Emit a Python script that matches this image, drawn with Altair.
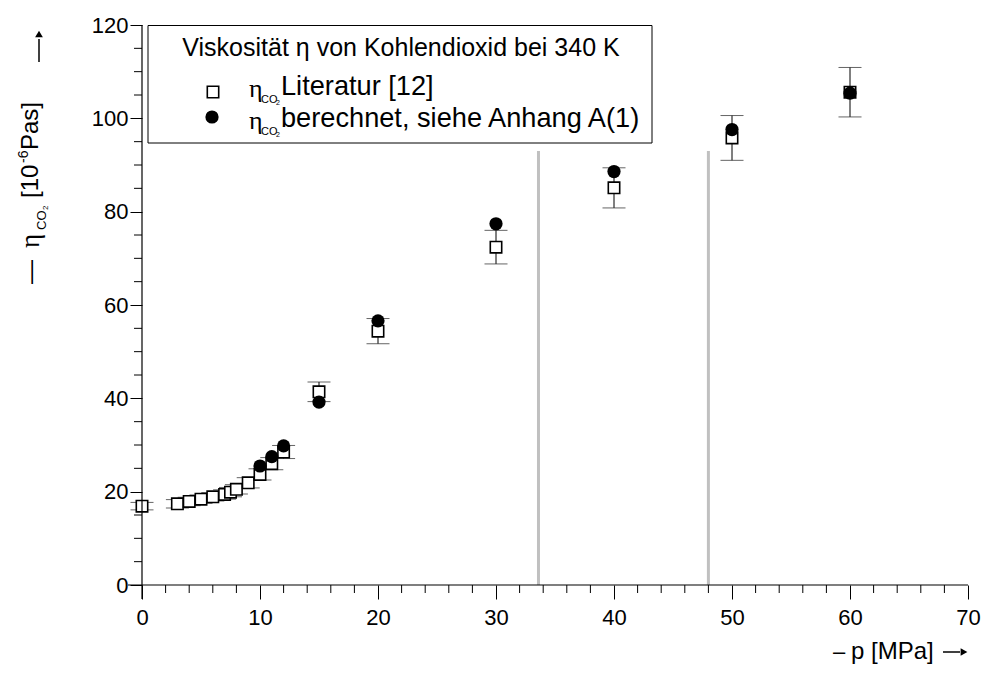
import altair as alt
import pandas as pd

# ---------------- data ----------------
p_lit = [0, 3, 4, 5, 6, 7, 7.5, 8, 9, 10, 11, 12, 15, 20, 30, 40, 50, 60]
eta_lit = [16.9, 17.4, 17.9, 18.4, 18.9, 19.4, 19.9, 20.5, 21.9, 23.7, 26.0, 28.5,
           41.4, 54.4, 72.4, 85.1, 95.8, 105.6]
err_low = [16.1, 16.5, 17.0, 17.5, 18.0, 18.4, 18.9, 19.5, 20.8, 22.5, 24.7, 27.1,
           39.3, 51.7, 68.8, 80.8, 91.0, 100.3]
err_high = [17.7, 18.3, 18.8, 19.3, 19.8, 20.4, 20.9, 21.5, 23.0, 24.9, 27.3, 29.9,
            43.5, 57.1, 76.0, 89.4, 100.6, 110.9]

p_calc = [10, 11, 12, 15, 20, 30, 40, 50, 60]
eta_calc = [25.5, 27.5, 29.8, 39.2, 56.6, 77.4, 88.6, 97.6, 105.4]

vline_p = [33.6, 48.0]
vline_top = [93, 93]

x_major = [0, 10, 20, 30, 40, 50, 60, 70]
x_minor = [2, 4, 6, 8, 12, 14, 16, 18, 22, 24, 26, 28, 32, 34, 36, 38, 42, 44, 46, 48,
           52, 54, 56, 58, 62, 64, 66, 68]
y_major = [0, 20, 40, 60, 80, 100, 120]
y_minor = [5, 10, 15, 25, 30, 35, 45, 50, 55, 65, 70, 75, 85, 90, 95, 105, 110, 115]

legend_title = "Viskosität η von Kohlendioxid bei 340 K"
legend_lit = "Literatur [12]"
legend_calc = "berechnet, siehe Anhang A(1)"

# ---------------- layout ----------------
W, H = 826, 560
FONT = "Liberation Sans"
SERIF = "Liberation Serif"

lit_df = pd.DataFrame({"p": p_lit, "eta": eta_lit, "lo": err_low, "hi": err_high})
calc_df = pd.DataFrame({"p": p_calc, "eta": eta_calc})
vl_df = pd.DataFrame({"p": vline_p, "top": vline_top})

xs = alt.Scale(domain=[0, 70], nice=False, zero=False)
ys = alt.Scale(domain=[0, 120], nice=False, zero=False)

one = alt.Data(values=[{"a": 0}])

axis_x = alt.Axis(values=x_major, tickSize=14, tickColor="black", tickWidth=1,
                  domain=False, grid=False, labelFont=FONT, labelFontSize=22,
                  labelColor="black", labelPadding=8, labelFlush=False,
                  title=None, format="d")
axis_y = alt.Axis(values=y_major, tickSize=12, tickColor="black", tickWidth=1,
                  domain=False, grid=False, labelFont=FONT, labelFontSize=22,
                  labelColor="black", labelPadding=2, labelFlush=False,
                  title=None, format="d")

# gray vertical lines
vlines = alt.Chart(vl_df).mark_rule(color="#c0c0c0", strokeWidth=3).encode(
    x=alt.X("p:Q", scale=xs, axis=axis_x),
    y=alt.Y("top:Q", scale=ys, axis=axis_y),
    y2=alt.datum(0),
)

# error bars
stems = alt.Chart(lit_df).mark_rule(color="black", strokeWidth=1).encode(
    x=alt.X("p:Q", scale=xs), y=alt.Y("lo:Q", scale=ys), y2="hi:Q")
caps_lo = alt.Chart(lit_df).mark_tick(color="#222222", orient="horizontal", size=23,
                                      thickness=1).encode(
    x=alt.X("p:Q", scale=xs), y=alt.Y("lo:Q", scale=ys))
caps_hi = alt.Chart(lit_df).mark_tick(color="#222222", orient="horizontal", size=23,
                                      thickness=1).encode(
    x=alt.X("p:Q", scale=xs), y=alt.Y("hi:Q", scale=ys))

squares = alt.Chart(lit_df).mark_point(shape="square", filled=True, fill="white",
                                       stroke="black", strokeWidth=1.6, size=130,
                                       opacity=1).encode(
    x=alt.X("p:Q", scale=xs), y=alt.Y("eta:Q", scale=ys))
circles = alt.Chart(calc_df).mark_point(shape="circle", filled=True, color="black",
                                        size=175, opacity=1).encode(
    x=alt.X("p:Q", scale=xs), y=alt.Y("eta:Q", scale=ys))

# axis lines and minor ticks
xline = alt.Chart(one).mark_rule(color="black", strokeWidth=1.2).encode(
    x=alt.value(-14), x2=alt.value(W), y=alt.value(H))
yline = alt.Chart(one).mark_rule(color="black", strokeWidth=1.2).encode(
    x=alt.value(0), y=alt.value(0), y2=alt.value(H + 14))
xminor = alt.Chart(pd.DataFrame({"v": x_minor})).mark_rule(color="black").encode(
    x=alt.X("v:Q", scale=xs), y=alt.value(H), y2=alt.value(H + 8))
yminor = alt.Chart(pd.DataFrame({"v": y_minor})).mark_rule(color="black").encode(
    y=alt.Y("v:Q", scale=ys), x=alt.value(0), x2=alt.value(-8))


def txt(s, x, y, size, font=FONT, align="left", baseline="alphabetic", angle=0):
    kw = dict(text=s, font=font, fontSize=size, align=align, baseline=baseline,
              color="black")
    if angle:
        kw["angle"] = angle
    return alt.Chart(one).mark_text(**kw).encode(x=alt.value(x), y=alt.value(y))


# legend box
box = alt.Chart(one).mark_rect(fill="white", stroke="black", strokeWidth=1).encode(
    x=alt.value(6), x2=alt.value(510), y=alt.value(0.5), y2=alt.value(118))
leg = [
    txt(legend_title, 259, 31, 25, align="center"),
    alt.Chart(one).mark_point(shape="square", filled=True, fill="white", stroke="black",
                              strokeWidth=1.6, size=130, opacity=1).encode(
        x=alt.value(71), y=alt.value(67)),
    alt.Chart(one).mark_point(shape="circle", filled=True, color="black", size=175,
                              opacity=1).encode(x=alt.value(70), y=alt.value(92)),
    txt("η", 107, 72, 26, font=SERIF),
    txt("CO", 119, 78, 11),
    txt("2", 134, 80, 7),
    txt(legend_lit, 139, 70, 27.2),
    txt("η", 107, 104, 26, font=SERIF),
    txt("CO", 119, 110, 11),
    txt("2", 134, 112, 7),
    txt(legend_calc, 139, 102, 27.2),
]

# y-axis title (rotated, reading upwards)
bx = -104
ytitle = [
    txt("—", bx, 259, 24, angle=270),
    txt("η", bx + 1, 223, 27, font=SERIF, angle=270),
    txt("CO", bx + 8, 205, 13, angle=270),
    txt("2", bx + 10, 185, 8, angle=270),
    txt("[10", bx, 173, 24, angle=270),
    txt("-6", bx - 10, 138, 14, angle=270),
    txt("Pas]", bx, 125, 24, angle=270),
]
yarrow = alt.Chart(one).mark_rule(color="black", strokeWidth=1.5).encode(
    x=alt.value(bx + 1), y=alt.value(37), y2=alt.value(14))
yarrowhead = alt.Chart(one).mark_point(shape="triangle-up", filled=True, color="black",
                                       size=60, opacity=1).encode(
    x=alt.value(bx + 1), y=alt.value(9))

# x-axis title
xtitle = [
    txt("–", 691, 634, 22),
    txt("p [MPa]", 709, 634, 24),
]
xarrow = alt.Chart(one).mark_rule(color="black", strokeWidth=1.5).encode(
    x=alt.value(801), x2=alt.value(818), y=alt.value(627))
xarrowhead = alt.Chart(one).mark_point(shape="triangle-right", filled=True,
                                       color="black", size=60, opacity=1).encode(
    x=alt.value(822), y=alt.value(627))

chart = alt.layer(
    vlines, stems, caps_lo, caps_hi, squares, circles,
    xline, yline, xminor, yminor,
    box, *leg, *ytitle, yarrow, yarrowhead, *xtitle, xarrow, xarrowhead,
).properties(
    width=W, height=H,
    autosize=alt.AutoSizeParams(type="none"),
    padding={"left": 142, "top": 25, "right": 18, "bottom": 97},
    background="white",
).configure_view(stroke=None)

chart.save("out.html", embed_options={"renderer": "svg", "actions": False})
